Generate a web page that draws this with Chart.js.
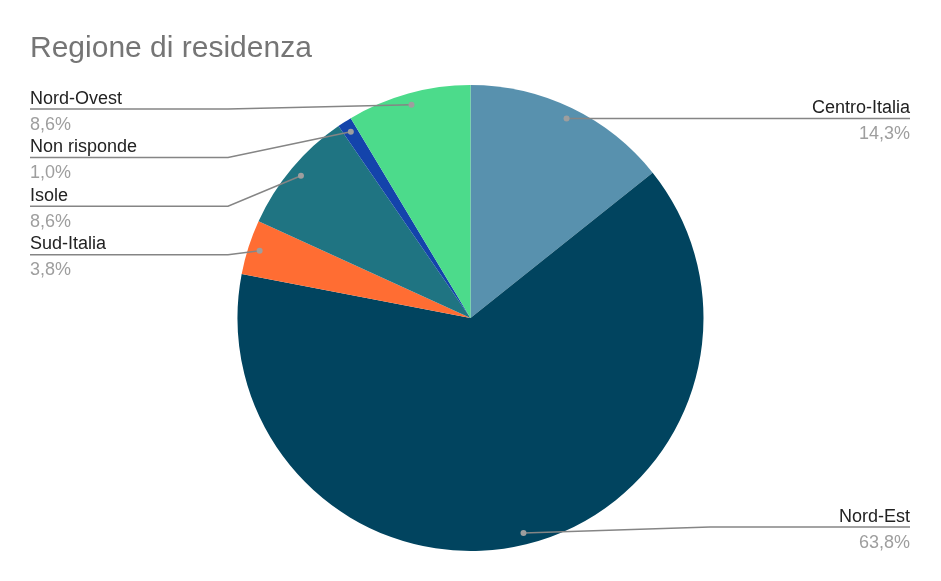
<!DOCTYPE html>
<html lang="it">
<head>
  <meta charset="UTF-8" />
  <title>Regione di residenza</title>
  <style>
    html, body { margin: 0; padding: 0; background: #ffffff; }
    .wrap { width: 941px; height: 581px; position: relative; }
  </style>
</head>
<body>
  <div class="wrap">
    <canvas id="pieChart"></canvas>
  </div>

  <script src="https://cdn.jsdelivr.net/npm/chart.js"></script>
  <script>
    // data, clockwise from the top
    const regions = ['Centro-Italia', 'Nord-Est', 'Sud-Italia', 'Isole', 'Non risponde', 'Nord-Ovest'];
    const shares = [14.3, 63.8, 3.8, 8.6, 1.0, 8.6];
    const sliceColors = ['#5891ae', '#01445f', '#ff6d33', '#1f7482', '#1444ab', '#4cdb8b'];

    const FONT = '"Liberation Sans", Arial, sans-serif';

    // leader lines + name / percentage labels, the way Sheets places them
    const outsideLabels = {
      id: 'outsideLabels',
      afterDatasetsDraw(chart) {
        const ctx = chart.ctx;
        const area = chart.chartArea;
        const arcs = chart.getDatasetMeta(0).data;
        const leftX = 30, rightX = 910, elbow = 198, gap = 48.6;

        const items = arcs.map((arc, i) => {
          const p = arc.getProps(['x', 'y', 'startAngle', 'endAngle', 'outerRadius'], true);
          const mid = (p.startAngle + p.endAngle) / 2;
          const r = p.outerRadius * 0.95;
          return {
            i: i,
            dx: p.x + Math.cos(mid) * r,
            dy: p.y + Math.sin(mid) * r,
            left: Math.cos(mid) < 0
          };
        });

        const left = items.filter(o => o.left).sort((a, b) => a.dy - b.dy);
        let prev = -Infinity;
        left.forEach(o => {
          o.ly = Math.max(o.dy, area.top + 24, prev + gap);
          prev = o.ly;
        });
        items.filter(o => !o.left).forEach(o => {
          o.ly = Math.min(Math.max(o.dy, area.top + 24), area.bottom - 24);
        });

        ctx.save();
        items.forEach(o => {
          const x0 = o.left ? leftX : rightX;
          const xe = o.left ? leftX + elbow : rightX - elbow - 2;

          ctx.strokeStyle = '#858585';
          ctx.lineWidth = 1.5;
          ctx.beginPath();
          ctx.moveTo(x0, o.ly);
          if (Math.abs(o.dy - o.ly) > 0.5 && (o.left ? o.dx > xe : o.dx < xe)) {
            ctx.lineTo(xe, o.ly);
          }
          ctx.lineTo(o.dx, o.dy);
          ctx.stroke();

          ctx.fillStyle = '#9e9e9e';
          ctx.beginPath();
          ctx.arc(o.dx, o.dy, 3, 0, Math.PI * 2);
          ctx.fill();

          ctx.textAlign = o.left ? 'left' : 'right';
          ctx.textBaseline = 'alphabetic';
          ctx.font = '18px ' + FONT;
          ctx.fillStyle = '#222222';
          ctx.fillText(regions[o.i], x0, o.ly - 5.5);
          ctx.fillStyle = '#9e9e9e';
          ctx.fillText(shares[o.i].toFixed(1).replace('.', ',') + '%', x0, o.ly + 20.5);
        });
        ctx.restore();
      }
    };

    new Chart(document.getElementById('pieChart'), {
      type: 'pie',
      data: {
        labels: regions,
        datasets: [{
          data: shares,
          backgroundColor: sliceColors,
          borderWidth: 0,
          hoverOffset: 0
        }]
      },
      options: {
        responsive: true,
        maintainAspectRatio: false,
        animation: false,
        layout: { padding: { top: 0, bottom: 30, left: 30, right: 30 } },
        plugins: {
          legend: { display: false },
          tooltip: { enabled: false },
          title: {
            display: true,
            text: 'Regione di residenza',
            align: 'start',
            color: '#757575',
            font: { family: FONT, size: 30, weight: 'normal', lineHeight: 1.2 },
            padding: { top: 30.6, bottom: 18.4 }
          }
        }
      },
      plugins: [outsideLabels]
    });
  </script>
</body>
</html>
